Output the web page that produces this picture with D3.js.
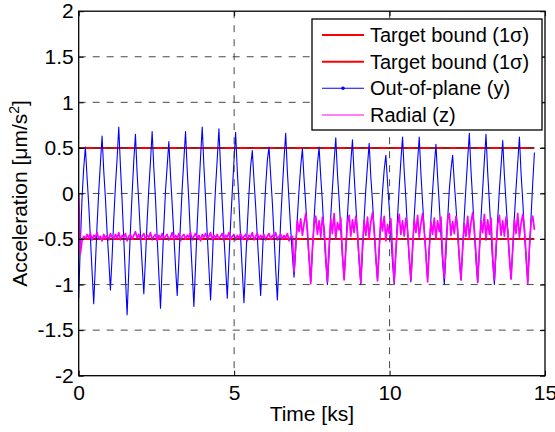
<!DOCTYPE html>
<html>
<head>
<meta charset="utf-8">
<script src="https://cdn.jsdelivr.net/npm/d3@7"></script>
<style>
  html, body { margin: 0; padding: 0; background: #fff; }
  svg { display: block; }
  text { font-family: "Liberation Sans", Arial, sans-serif; fill: #000; }
</style>
</head>
<body>
<svg id="chart" width="555" height="432"></svg>
<script>
// ---------------- data ----------------
const xTicks = [0, 5, 10, 15];
const yTicks = [-2, -1.5, -1, -0.5, 0, 0.5, 1, 1.5, 2];
const yTickLabels = ["-2", "-1.5", "-1", "-0.5", "0", "0.5", "1", "1.5", "2"];
const xTickLabels = ["0", "5", "10", "15"];

const legendLabels = ["Target bound (1σ)", "Target bound (1σ)", "Out-of-plane (y)", "Radial (z)"];

// sampling interval of the plotted series [ks]
const sampleStep = 0.0537;

// Target bound lines (1 sigma)
const targetBoundTime = [0, 14.66];
const targetBoundUpper = [0.5, 0.5];
const targetBoundLower = [-0.5, -0.5];

// Out-of-plane (y) acceleration [um/s^2], one value per sample
const outOfPlaneY = [
  -1.15, -0.55, -0.05, 0.28,
  0.51, 0.18, -0.12, -0.48, -0.85, -1.21, -0.78, -0.35, 0.02, 0.33,
  0.63, 0.25, -0.05, -0.42, -0.72, -1.06, -0.70, -0.28, 0.08, 0.38,
  0.73, 0.30, -0.08, -0.50, -0.92, -1.33, -0.85, -0.40, 0.00, 0.36,
  0.65, 0.22, -0.10, -0.45, -0.78, -1.10, -0.72, -0.30, 0.05, 0.35,
  0.68, 0.28, -0.06, -0.48, -0.88, -1.26, -0.80, -0.36, 0.03, 0.30,
  0.57, 0.20, -0.12, -0.46, -0.80, -1.12, -0.74, -0.32, 0.06, 0.37,
  0.68, 0.26, -0.09, -0.50, -0.86, -1.24, -0.79, -0.34, 0.04, 0.40,
  0.73, 0.30, -0.05, -0.45, -0.82, -1.17, -0.76, -0.30, 0.07, 0.38,
  0.71, 0.27, -0.10, -0.47, -0.80, -1.15, -0.72, -0.33, 0.02, 0.35,
  0.67, 0.25, -0.08, -0.49, -0.85, -1.20, -0.77, -0.36, 0.00, 0.30,
  0.47, 0.15, -0.14, -0.48, -0.80, -1.12, -0.70, -0.28, 0.08, 0.36,
  0.51, 0.20, -0.10, -0.46, -0.83, -1.17, -0.74, -0.30, 0.05, 0.38,
  0.66, 0.24, -0.08, -0.40, -0.68, -0.92, -0.62, -0.26, 0.04, 0.30,
  0.49, 0.16, -0.12, -0.44, -0.72, -0.97, -0.64, -0.28, 0.03, 0.32,
  0.51, 0.18, -0.10, -0.45, -0.75, -1.00, -0.66, -0.25, 0.06, 0.35,
  0.61, 0.22, -0.07, -0.40, -0.70, -0.93, -0.60, -0.24, 0.08, 0.34,
  0.59, 0.20, -0.12, -0.46, -0.76, -1.00, -0.65, -0.27, 0.05, 0.31,
  0.55, 0.18, -0.09, -0.42, -0.72, -0.95, -0.62, -0.30, 0.02, 0.26,
  0.42, 0.12, -0.15, -0.47, -0.76, -1.00, -0.64, -0.26, 0.07, 0.36,
  0.62, 0.24, -0.06, -0.42, -0.72, -0.97, -0.63, -0.25, 0.06, 0.35,
  0.62, 0.22, -0.10, -0.40, -0.68, -0.93, -0.60, -0.28, 0.03, 0.30,
  0.54, 0.18, -0.12, -0.45, -0.75, -1.00, -0.66, -0.29, 0.04, 0.26,
  0.42, 0.12, -0.14, -0.44, -0.72, -0.95, -0.62, -0.24, 0.08, 0.38,
  0.66, 0.25, -0.07, -0.42, -0.74, -0.98, -0.64, -0.27, 0.05, 0.36,
  0.65, 0.23, -0.09, -0.44, -0.76, -1.00, -0.65, -0.28, 0.04, 0.30,
  0.58, 0.20, -0.10, -0.40, -0.70, -0.93, -0.61, -0.26, 0.06, 0.34,
  0.62, 0.22, -0.08, -0.43, -0.72, -0.97, -0.62, -0.25, 0.12, 0.45
];

// Radial (z) acceleration [um/s^2], one value per sample
const radialZ = [
  0.00, -0.66, -0.52,
  -0.47,-0.50,-0.45,-0.49,-0.44,-0.51,-0.46,-0.48,-0.43,-0.50,
  -0.47,-0.52,-0.45,-0.49,-0.46,-0.51,-0.44,-0.48,-0.50,-0.45,
  -0.49,-0.43,-0.51,-0.46,-0.48,-0.44,-0.52,-0.47,-0.45,-0.50,
  -0.46,-0.42,-0.49,-0.45,-0.51,-0.47,-0.44,-0.50,-0.46,-0.48,
  -0.43,-0.51,-0.47,-0.45,-0.52,-0.46,-0.49,-0.44,-0.50,-0.47,
  -0.45,-0.51,-0.48,-0.43,-0.50,-0.46,-0.49,-0.44,-0.52,-0.47,
  -0.45,-0.50,-0.46,-0.48,-0.43,-0.51,-0.47,-0.44,-0.49,-0.46,
  -0.52,-0.45,-0.48,-0.44,-0.50,-0.47,-0.43,-0.51,-0.46,-0.49,
  -0.45,-0.50,-0.47,-0.44,-0.52,-0.46,-0.48,-0.43,-0.50,-0.47,
  -0.45,-0.51,-0.46,-0.49,-0.44,-0.50,-0.47,-0.45,-0.52,-0.46,
  -0.48,-0.43,-0.51,-0.47,-0.44,-0.50,-0.46,-0.49,-0.45,-0.51,
  -0.47,-0.44,-0.50,-0.46,-0.48,-0.43,-0.51,-0.47,-0.45,-0.50,
  -0.46,-0.49,-0.44,-0.52,-0.48,-0.47,
  -0.86, -0.55, -0.30, -0.42, -0.28, -0.46, -0.33, -0.22, -0.40, -0.70,
  -0.99, -0.60, -0.35, -0.25, -0.45, -0.30, -0.48, -0.26, -0.38, -0.68,
  -0.97, -0.58, -0.28, -0.44, -0.22, -0.50, -0.32, -0.40, -0.27, -0.66,
  -0.95, -0.62, -0.33, -0.24, -0.47, -0.29, -0.43, -0.25, -0.42, -0.72,
  -0.98, -0.57, -0.30, -0.46, -0.26, -0.49, -0.31, -0.21, -0.39, -0.69,
  -0.96, -0.60, -0.27, -0.41, -0.25, -0.52, -0.34, -0.44, -0.28, -0.65,
  -0.97, -0.63, -0.35, -0.23, -0.45, -0.30, -0.47, -0.27, -0.40, -0.70,
  -0.95, -0.58, -0.29, -0.43, -0.24, -0.48, -0.33, -0.22, -0.41, -0.67,
  -0.97, -0.61, -0.31, -0.45, -0.27, -0.50, -0.30, -0.42, -0.26, -0.68,
  -0.93, -0.56, -0.28, -0.22, -0.46, -0.31, -0.44, -0.25, -0.39, -0.71,
  -0.95, -0.59, -0.33, -0.47, -0.25, -0.49, -0.32, -0.21, -0.40, -0.66,
  -0.97, -0.62, -0.30, -0.43, -0.23, -0.51, -0.29, -0.45, -0.27, -0.69,
  -0.95, -0.57, -0.34, -0.24, -0.46, -0.30, -0.47, -0.26, -0.41, -0.70,
  -0.94, -0.60, -0.29, -0.44, -0.22, -0.48, -0.33, -0.23, -0.38, -0.67,
  -0.99, -0.58, -0.32, -0.25, -0.40
];

// ---------------- layout ----------------
const plotLeft = 78.7, plotRight = 545, plotTop = 11.2, plotBottom = 375.7;
const fontTick = 21, fontLabel = 21, fontLegend = 20;

const svg = d3.select("#chart");
const x = d3.scaleLinear().domain([0, 15]).range([plotLeft, plotRight]);
const y = d3.scaleLinear().domain([-2, 2]).range([plotBottom, plotTop]);

svg.append("defs").append("clipPath").attr("id", "clip")
  .append("rect").attr("x", plotLeft).attr("y", plotTop)
  .attr("width", plotRight - plotLeft).attr("height", plotBottom - plotTop);

svg.append("rect").attr("x", plotLeft).attr("y", plotTop)
  .attr("width", plotRight - plotLeft).attr("height", plotBottom - plotTop)
  .attr("fill", "#fff");

const dataG = svg.append("g").attr("clip-path", "url(#clip)");

const line = d3.line().x(d => x(d[0])).y(d => y(d[1]));

const upperPts = targetBoundTime.map((t, i) => [t, targetBoundUpper[i]]);
const lowerPts = targetBoundTime.map((t, i) => [t, targetBoundLower[i]]);
const bluePts = outOfPlaneY.map((v, i) => [i * sampleStep, v]);
const pinkPts = radialZ.map((v, i) => [i * sampleStep, v]);

dataG.append("path").attr("d", line(upperPts)).attr("fill", "none")
  .attr("stroke", "#ff0000").attr("stroke-width", 2);
dataG.append("path").attr("d", line(lowerPts)).attr("fill", "none")
  .attr("stroke", "#ff0000").attr("stroke-width", 2);
dataG.append("path").attr("d", line(bluePts)).attr("fill", "none")
  .attr("stroke", "#0000ff").attr("stroke-width", 1.1).attr("stroke-linejoin", "round");
dataG.append("path").attr("d", line(pinkPts)).attr("fill", "none")
  .attr("stroke", "#ff00ff").attr("stroke-width", 1.7).attr("stroke-linejoin", "round");

// grid (dashed)
const gridG = svg.append("g");
gridG.selectAll("line.gx").data(xTicks.filter(t => t > 0 && t < 15)).enter()
  .append("line").attr("x1", d => x(d)).attr("x2", d => x(d))
  .attr("y1", plotTop).attr("y2", plotBottom)
  .attr("stroke", "#333").attr("stroke-width", 0.9).attr("stroke-dasharray", "7,7");
gridG.selectAll("line.gy").data(yTicks.filter(t => t > -2 && t < 2)).enter()
  .append("line").attr("y1", d => y(d)).attr("y2", d => y(d))
  .attr("x1", plotLeft).attr("x2", plotRight)
  .attr("stroke", "#333").attr("stroke-width", 0.9).attr("stroke-dasharray", "7,7");

// axes
function styleAxis(g) {
  g.select(".domain").remove();
  g.selectAll(".tick line").attr("stroke", "#000").attr("stroke-width", 1);
  g.selectAll(".tick text").attr("font-size", fontTick)
    .attr("font-family", "'Liberation Sans', Arial, sans-serif").attr("fill", "#000");
}
svg.append("g").attr("transform", `translate(0,${plotBottom})`)
  .call(d3.axisBottom(x).tickValues(xTicks).tickFormat((d, i) => xTickLabels[i])
    .tickSizeInner(-5).tickSizeOuter(0).tickPadding(9))
  .call(styleAxis);
svg.append("g").attr("transform", `translate(0,${plotTop})`)
  .call(d3.axisTop(x).tickValues(xTicks).tickFormat("")
    .tickSizeInner(-5).tickSizeOuter(0))
  .call(styleAxis);
svg.append("g").attr("transform", `translate(${plotLeft},0)`)
  .call(d3.axisLeft(y).tickValues(yTicks).tickFormat((d, i) => yTickLabels[i])
    .tickSizeInner(-5).tickSizeOuter(0).tickPadding(5))
  .call(styleAxis);
svg.append("g").attr("transform", `translate(${plotRight},0)`)
  .call(d3.axisRight(y).tickValues(yTicks).tickFormat("")
    .tickSizeInner(-5).tickSizeOuter(0))
  .call(styleAxis);

// box
svg.append("rect").attr("x", plotLeft).attr("y", plotTop)
  .attr("width", plotRight - plotLeft).attr("height", plotBottom - plotTop)
  .attr("fill", "none").attr("stroke", "#000").attr("stroke-width", 1.3);

// axis labels
svg.append("text").attr("x", (plotLeft + plotRight) / 2).attr("y", 421)
  .attr("text-anchor", "middle").attr("font-size", fontLabel).text("Time [ks]");

const yl = svg.append("text")
  .attr("transform", `translate(27,${(plotTop + plotBottom) / 2}) rotate(-90)`)
  .attr("text-anchor", "middle").attr("font-size", fontLabel);
yl.append("tspan").text("Acceleration [μm/s");
yl.append("tspan").attr("font-size", 14).attr("dy", -8).text("2");
yl.append("tspan").attr("dy", 8).text("]");

// legend
const lg = svg.append("g");
const legX = 312, legY = 19, legW = 230, legH = 111;
lg.append("rect").attr("x", legX).attr("y", legY).attr("width", legW).attr("height", legH)
  .attr("fill", "#fff").attr("stroke", "#000").attr("stroke-width", 1.3);
const legColors = ["#ff0000", "#ff0000", "#0000ff", "#ff00ff"];
const legWidths = [2, 2, 1.1, 1.1];
const legRows = [35, 61.7, 88.3, 115];
legendLabels.forEach((lab, i) => {
  lg.append("line").attr("x1", 322).attr("x2", 364).attr("y1", legRows[i]).attr("y2", legRows[i])
    .attr("stroke", legColors[i]).attr("stroke-width", legWidths[i]);
  lg.append("text").attr("x", 370).attr("y", legRows[i]).attr("dy", "0.35em")
    .attr("font-size", fontLegend).text(lab);
});
lg.append("circle").attr("cx", 343).attr("cy", legRows[2]).attr("r", 1.8).attr("fill", "#0000ff");
</script>
</body>
</html>
